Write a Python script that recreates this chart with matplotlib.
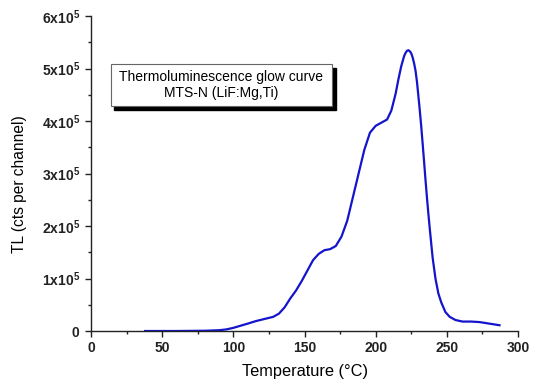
import matplotlib
matplotlib.use('Agg')
import matplotlib.pyplot as plt
from matplotlib.ticker import MultipleLocator, FuncFormatter

plt.rcParams['font.family'] = ['Liberation Sans', 'DejaVu Sans']
plt.rcParams['mathtext.fontset'] = 'custom'
plt.rcParams['mathtext.rm'] = 'Liberation Sans'
plt.rcParams['mathtext.bf'] = 'Liberation Sans:bold'

# Glow curve (temperature in °C, TL in units of 1e5 counts)
temperature = [38, 60, 80, 90, 95, 100, 105, 110, 116, 122, 128, 132, 136, 140,
               144, 148, 152, 156, 160, 164, 168, 172, 176, 180, 184, 188, 192,
               196, 200, 204, 208, 211, 214, 216, 218, 220, 221, 222, 223, 224,
               225, 226, 227, 228, 229, 230, 231, 232, 233, 234, 235, 236, 237,
               238, 240, 242, 244, 246, 249, 252, 256, 261, 267, 273, 280, 287]
tl_e5 = [0.0, 0.0, 0.005, 0.015, 0.03, 0.06, 0.10, 0.14, 0.19, 0.23, 0.27, 0.33,
         0.45, 0.62, 0.77, 0.95, 1.15, 1.35, 1.47, 1.54, 1.56, 1.62, 1.80, 2.10,
         2.55, 3.00, 3.45, 3.78, 3.91, 3.97, 4.03, 4.20, 4.52, 4.80, 5.05, 5.24,
         5.30, 5.34, 5.35, 5.33, 5.29, 5.21, 5.10, 4.96, 4.75, 4.48, 4.20, 3.90,
         3.57, 3.23, 2.88, 2.55, 2.24, 1.95, 1.40, 1.00, 0.72, 0.55, 0.36, 0.27,
         0.21, 0.18, 0.18, 0.17, 0.14, 0.11]
tl = [v * 1e5 for v in tl_e5]

box_text = 'Thermoluminescence glow curve\nMTS-N (LiF:Mg,Ti)'

fig = plt.figure(figsize=(5.33, 3.84), dpi=100)
ax = fig.add_axes([0.1707, 0.138, 0.8012, 0.820])

ax.plot(temperature, tl, color='#1414cc', linewidth=1.6)

ax.set_xlim(0, 300)
ax.set_ylim(0, 6e5)
ax.xaxis.set_major_locator(MultipleLocator(50))
ax.xaxis.set_minor_locator(MultipleLocator(25))
ax.yaxis.set_major_locator(MultipleLocator(1e5))
ax.yaxis.set_minor_locator(MultipleLocator(0.5e5))


def ylab(v, pos):
    n = int(round(v / 1e5))
    if n == 0:
        return r'$\mathbf{0}$'
    return r'$\mathbf{%dx10}^{\mathbf{5}}$' % n


ax.yaxis.set_major_formatter(FuncFormatter(ylab))
ax.tick_params(axis='both', which='major', direction='out', length=4, width=1,
               labelsize=10, colors='#222222')
ax.tick_params(axis='both', which='minor', direction='out', length=2.5, width=1,
               colors='#222222')
for lbl in ax.get_xticklabels():
    lbl.set_fontweight('bold')

ax.spines['top'].set_visible(False)
ax.spines['right'].set_visible(False)
for s in ['left', 'bottom']:
    ax.spines[s].set_color('#222222')
    ax.spines[s].set_linewidth(1)

ax.set_xlabel('Temperature (°C)', fontsize=11.8)
ax.set_ylabel('TL (cts per channel)', fontsize=11.2)
ax.xaxis.set_label_coords(0.5, -0.105)
ax.yaxis.set_label_coords(-0.150, 0.465)

# Text box with drop shadow
bx0, by0, bw, bh = 110.5 / 533, (384 - 106) / 384, 221 / 533, 42 / 384
shadow = plt.Rectangle((bx0 + 4 / 533, by0 - 4 / 384), bw, bh, transform=fig.transFigure,
                       facecolor='black', edgecolor='black', zorder=5)
box = plt.Rectangle((bx0, by0), bw, bh, transform=fig.transFigure,
                    facecolor='white', edgecolor='#666666', linewidth=0.8, zorder=6)
fig.patches.extend([shadow, box])
fig.text(bx0 + bw / 2, by0 + bh / 2, box_text, ha='center', va='center',
         fontsize=10, linespacing=1.2, zorder=7)

fig.savefig('out.png', dpi=100)
